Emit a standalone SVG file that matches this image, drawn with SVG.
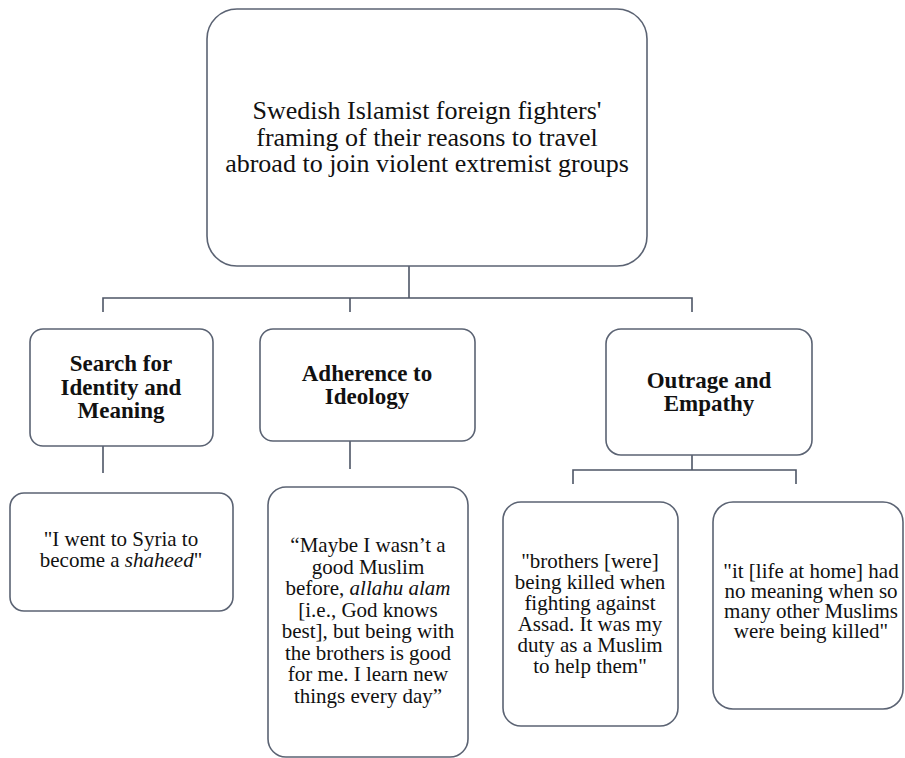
<svg xmlns="http://www.w3.org/2000/svg" width="905" height="758" viewBox="0 0 905 758">
<style>
.box{fill:#fff;stroke:#5b6373;stroke-width:1.6}
.ln{stroke:#4e5666;stroke-width:1.6;fill:none}
.t{font-family:"Liberation Serif","Times New Roman",serif;fill:#111;text-anchor:middle}
.title{font-size:26px}
.h{font-size:23px;font-weight:bold}
.q{font-size:21px}
</style>
<rect width="905" height="758" fill="#fff"/>
<g id="connectors">
<path class="ln" d="M409 266V298M103 312V298H692V312M350 298V312"/>
<path class="ln" d="M103 446V473M350 441V469"/>
<path class="ln" d="M692 455V470M573 484V470H796V484"/>
</g>
<g id="root">
<rect class="box" x="207" y="9" width="440" height="257" rx="30"/>
<text class="t title" x="427" y="119">Swedish Islamist foreign fighters'</text>
<text class="t title" x="427" y="146">framing of their reasons to travel</text>
<text class="t title" x="427" y="172">abroad to join violent extremist groups</text>
</g>
<g id="search">
<rect class="box" x="30" y="329" width="183" height="117" rx="13"/>
<text class="t h" x="121" y="371">Search for</text>
<text class="t h" x="121" y="395">Identity and</text>
<text class="t h" x="121" y="418">Meaning</text>
</g>
<g id="adherence">
<rect class="box" x="260" y="329" width="215" height="112" rx="13"/>
<text class="t h" x="367" y="381">Adherence to</text>
<text class="t h" x="367" y="404">Ideology</text>
</g>
<g id="outrage">
<rect class="box" x="606" y="329" width="206" height="126" rx="15"/>
<text class="t h" x="709" y="388">Outrage and</text>
<text class="t h" x="709" y="411">Empathy</text>
</g>
<g id="quote1">
<rect class="box" x="10" y="493" width="223" height="118" rx="14"/>
<text class="t q" x="121" y="546">"I went to Syria to</text>
<text class="t q" x="121" y="567">become a <tspan font-style="italic">shaheed</tspan>"</text>
</g>
<g id="quote2">
<rect class="box" x="268" y="487" width="200" height="270" rx="18"/>
<text class="t q" x="368" y="552">“Maybe I wasn’t a</text>
<text class="t q" x="368" y="574">good Muslim</text>
<text class="t q" x="368" y="595">before, <tspan font-style="italic">allahu alam</tspan></text>
<text class="t q" x="368" y="617">[i.e., God knows</text>
<text class="t q" x="368" y="638">best], but being with</text>
<text class="t q" x="368" y="660">the brothers is good</text>
<text class="t q" x="368" y="681">for me. I learn new</text>
<text class="t q" x="368" y="703">things every day”</text>
</g>
<g id="quote3">
<rect class="box" x="503" y="502" width="175" height="224" rx="18"/>
<text class="t q" x="590" y="568">"brothers [were]</text>
<text class="t q" x="590" y="589">being killed when</text>
<text class="t q" x="590" y="610">fighting against</text>
<text class="t q" x="590" y="631">Assad. It was my</text>
<text class="t q" x="590" y="652">duty as a Muslim</text>
<text class="t q" x="590" y="673">to help them"</text>
</g>
<g id="quote4">
<rect class="box" x="713" y="502" width="190" height="207" rx="20"/>
<text class="t q" x="811" y="578">"it [life at home] had</text>
<text class="t q" x="811" y="598">no meaning when so</text>
<text class="t q" x="811" y="618">many other Muslims</text>
<text class="t q" x="811" y="638">were being killed"</text>
</g>
</svg>
